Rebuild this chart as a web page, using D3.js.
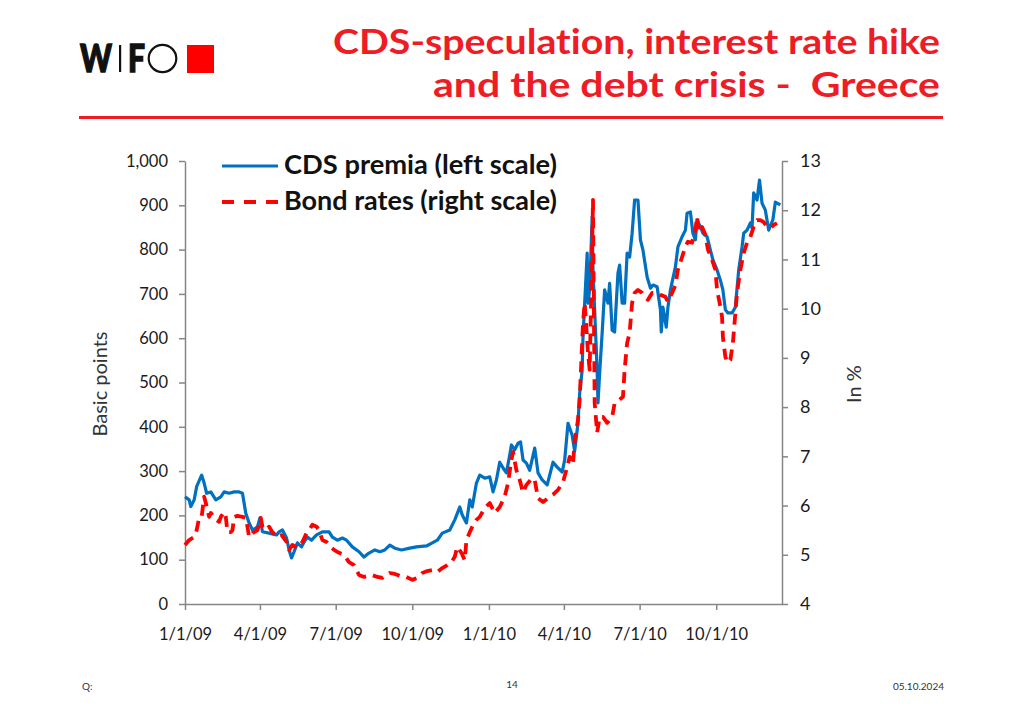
<!DOCTYPE html>
<html><head><meta charset="utf-8">
<script src="https://cdn.jsdelivr.net/npm/d3@7"></script>
<style>
body{margin:0;background:#fff}
svg{display:block}
text{font-family:Lato,"Open Sans",sans-serif;font-variant-ligatures:none}
</style>
</head><body>
<svg id="c" width="1024" height="709"></svg>
<script>
// ---------- data ----------
const titleLines = ["CDS-speculation, interest rate hike", "and the debt crisis -  Greece"];
const legendLabels = ["CDS premia (left scale)", "Bond rates (right scale)"];
const leftAxisTitle = "Basic points";
const rightAxisTitle = "In %";
const leftTicks = [0,100,200,300,400,500,600,700,800,900,1000];
const rightTicks = [4,5,6,7,8,9,10,11,12,13];
const xTickDates = ["2009-01-01","2009-04-01","2009-07-01","2009-10-01","2010-01-01","2010-04-01","2010-07-01","2010-10-01"];
const xTickLabels = ["1/1/09","4/1/09","7/1/09","10/1/09","1/1/10","4/1/10","7/1/10","10/1/10"];
const footer = ["Q:", "14", "05.10.2024"];

const cdsDates = ["2009-01-01","2009-01-06","2009-01-08","2009-01-12","2009-01-15","2009-01-20","2009-01-21","2009-01-24","2009-01-27","2009-02-01",
"2009-02-07","2009-02-13","2009-02-17","2009-02-23","2009-03-01","2009-03-07","2009-03-11","2009-03-15","2009-03-19","2009-03-23",
"2009-03-29","2009-04-01","2009-04-04","2009-04-12","2009-04-21","2009-04-24","2009-04-28","2009-05-03","2009-05-06","2009-05-09",
"2009-05-12","2009-05-16","2009-05-21","2009-05-24","2009-05-28","2009-06-02","2009-06-08","2009-06-15","2009-06-23","2009-06-27",
"2009-07-03","2009-07-09","2009-07-14","2009-07-21","2009-07-29","2009-08-04","2009-08-10","2009-08-17","2009-08-23","2009-08-29",
"2009-09-04","2009-09-10","2009-09-18","2009-09-28","2009-10-06","2009-10-18","2009-10-25","2009-10-31","2009-11-06","2009-11-15",
"2009-11-21","2009-11-27","2009-11-30","2009-12-05","2009-12-09","2009-12-12","2009-12-17","2009-12-21","2009-12-27","2010-01-02",
"2010-01-06","2010-01-10","2010-01-14","2010-01-18","2010-01-22","2010-01-26","2010-01-28","2010-02-01","2010-02-05","2010-02-08",
"2010-02-11","2010-02-15","2010-02-19","2010-02-25","2010-03-01","2010-03-06","2010-03-12","2010-03-19","2010-03-24","2010-03-30",
"2010-04-02","2010-04-06","2010-04-11","2010-04-14","2010-04-18","2010-04-20","2010-04-23","2010-04-24","2010-04-29","2010-04-30",
"2010-05-02","2010-05-05","2010-05-06","2010-05-11","2010-05-12","2010-05-14","2010-05-17","2010-05-20","2010-05-24","2010-05-26",
"2010-05-29","2010-06-01","2010-06-05","2010-06-07","2010-06-10","2010-06-13","2010-06-16","2010-06-19","2010-06-22","2010-06-25",
"2010-06-29","2010-07-02","2010-07-05","2010-07-10","2010-07-14","2010-07-17","2010-07-22","2010-07-26","2010-07-27","2010-07-29",
"2010-08-02","2010-08-04","2010-08-07","2010-08-13","2010-08-16","2010-08-21","2010-08-25","2010-08-27","2010-08-31","2010-09-03",
"2010-09-06","2010-09-08","2010-09-12","2010-09-15","2010-09-20","2010-09-24","2010-09-27","2010-10-02","2010-10-06","2010-10-09",
"2010-10-12","2010-10-15","2010-10-20","2010-10-24","2010-10-28","2010-11-01","2010-11-03","2010-11-07","2010-11-11","2010-11-13",
"2010-11-15","2010-11-19","2010-11-22","2010-11-25","2010-11-29","2010-12-03","2010-12-08","2010-12-11","2010-12-17"];
const cdsValues = [242,235,220,235,265,287,291,273,250,253,
235,242,253,250,253,253,250,205,183,167,
174,194,163,160,156,163,167,149,122,104,
118,138,129,140,151,144,156,163,163,151,
144,149,144,129,118,106,115,122,118,122,
133,126,122,126,129,131,138,144,160,167,
190,219,201,183,235,219,273,291,284,287,
253,280,320,307,296,336,359,348,363,366,
325,318,302,352,296,280,269,320,309,298,
325,408,381,345,408,476,528,603,792,679,
709,874,754,528,454,521,612,709,679,724,
618,614,747,765,679,679,792,783,837,912,
912,822,799,738,713,720,716,664,614,670,
625,670,709,761,806,829,844,882,885,837,
822,867,851,837,829,799,777,754,731,709,
664,657,657,670,754,806,837,844,860,849,
928,912,957,905,889,844,867,907,901];

const bondDates = ["2009-01-01","2009-01-06","2009-01-12","2009-01-15","2009-01-18","2009-01-21","2009-01-24","2009-01-26","2009-01-30","2009-02-01",
"2009-02-07","2009-02-11","2009-02-13","2009-02-17","2009-02-19","2009-02-21","2009-02-25","2009-02-27","2009-03-01","2009-03-05",
"2009-03-11","2009-03-15","2009-03-17","2009-03-19","2009-03-23","2009-03-29","2009-04-02","2009-04-04","2009-04-09","2009-04-12",
"2009-04-16","2009-04-22","2009-04-27","2009-05-03","2009-05-06","2009-05-10","2009-05-16","2009-05-22","2009-05-27","2009-05-30",
"2009-06-03","2009-06-08","2009-06-11","2009-06-15","2009-06-20","2009-06-26","2009-06-29","2009-07-05","2009-07-11","2009-07-17",
"2009-07-23","2009-07-29","2009-08-04","2009-08-13","2009-08-20","2009-08-26","2009-08-31","2009-09-04","2009-09-10","2009-09-16",
"2009-09-24","2009-10-01","2009-10-07","2009-10-13","2009-10-19","2009-10-25","2009-10-31","2009-11-06","2009-11-12","2009-11-17",
"2009-11-21","2009-11-24","2009-11-29","2009-12-03","2009-12-05","2009-12-09","2009-12-12","2009-12-17","2009-12-21","2009-12-27",
"2010-01-02","2010-01-08","2010-01-14","2010-01-20","2010-01-24","2010-01-28","2010-01-30","2010-02-03","2010-02-07","2010-02-11",
"2010-02-15","2010-02-22","2010-02-25","2010-03-01","2010-03-07","2010-03-13","2010-03-19","2010-03-25","2010-03-31","2010-04-05",
"2010-04-08","2010-04-12","2010-04-14","2010-04-18","2010-04-20","2010-04-24","2010-04-26","2010-04-28","2010-04-30","2010-05-02",
"2010-05-04","2010-05-06","2010-05-07","2010-05-08","2010-05-11","2010-05-14","2010-05-18","2010-05-23","2010-05-29","2010-06-01",
"2010-06-07","2010-06-11","2010-06-13","2010-06-16","2010-06-19","2010-06-22","2010-06-25","2010-06-29","2010-07-04","2010-07-08",
"2010-07-11","2010-07-16","2010-07-22","2010-07-26","2010-08-01","2010-08-04","2010-08-09","2010-08-13","2010-08-16","2010-08-21",
"2010-08-25","2010-08-28","2010-09-02","2010-09-06","2010-09-08","2010-09-10","2010-09-14","2010-09-18","2010-09-21","2010-09-26",
"2010-09-30","2010-10-02","2010-10-06","2010-10-08","2010-10-09","2010-10-12","2010-10-15","2010-10-18","2010-10-21","2010-10-24",
"2010-10-26","2010-10-30","2010-11-03","2010-11-07","2010-11-11","2010-11-15","2010-11-19","2010-11-23","2010-11-27","2010-12-01",
"2010-12-05","2010-12-09","2010-12-13"];
const bondValues = [5.20,5.30,5.36,5.50,5.75,5.77,6.18,6.05,5.77,5.85,
5.71,5.67,5.77,5.87,5.77,5.46,5.46,5.50,5.77,5.79,
5.77,5.75,5.57,5.36,5.44,5.50,5.75,5.57,5.50,5.57,
5.46,5.36,5.40,5.26,5.10,5.20,5.14,5.26,5.44,5.50,
5.61,5.57,5.50,5.30,5.26,5.14,5.10,5.04,5.00,4.85,
4.79,4.59,4.55,4.59,4.55,4.53,4.59,4.63,4.61,4.57,
4.55,4.49,4.53,4.63,4.67,4.69,4.65,4.73,4.79,4.85,
4.96,5.16,5.04,4.89,5.30,5.46,5.57,5.71,5.77,5.95,
6.05,5.85,5.97,6.18,6.46,6.93,7.09,6.72,6.52,6.26,
6.42,6.56,6.52,6.15,6.07,6.15,6.22,6.32,6.48,6.78,
6.99,6.83,7.33,7.74,8.15,9.71,10.12,9.63,9.10,8.76,
10.38,12.21,10.12,8.08,7.48,7.80,7.80,7.68,7.80,8.08,
8.15,8.21,8.76,9.30,9.51,10.12,10.32,10.38,10.32,10.22,
10.18,10.32,10.32,10.28,10.24,10.14,10.32,10.48,10.79,11.05,
11.26,11.36,11.34,11.60,11.87,11.56,11.66,11.50,11.20,10.99,
10.79,10.38,10.04,9.83,9.43,9.02,8.90,8.96,9.30,9.91,
10.32,10.79,11.13,11.34,11.46,11.66,11.80,11.80,11.76,11.66,
11.64,11.70,11.74];

// ---------- drawing ----------
const parse = d3.timeParse("%Y-%m-%d");
const cds = cdsDates.map((d,i)=>({date:parse(d), v:cdsValues[i]}));
const bond = bondDates.map((d,i)=>({date:parse(d), v:bondValues[i]}));

const svg = d3.select("#c");
const RED = "#ee1c25", BLUE = "#0070c0", AXIS = "#868686";

function fit(sel, w){
  const cur = sel.node().getComputedTextLength();
  const fs = parseFloat(sel.attr("font-size"));
  sel.attr("font-size", fs * w / cur);
}

// logo
const logo = svg.append("g");
logo.append("text").attr("x",80).attr("y",72).attr("font-size",37).attr("font-weight",900)
  .attr("fill","#111").attr("stroke","#111").attr("stroke-width",1.4)
  .attr("textLength",32).attr("lengthAdjust","spacingAndGlyphs").text("W");
logo.append("rect").attr("x",119).attr("y",45).attr("width",2.2).attr("height",27).attr("fill","#111");
logo.append("text").attr("x",128).attr("y",72).attr("font-size",37).attr("font-weight",900)
  .attr("fill","#111").attr("stroke","#111").attr("stroke-width",1.4)
  .attr("textLength",17).attr("lengthAdjust","spacingAndGlyphs").text("F");
logo.append("ellipse").attr("cx",162.5).attr("cy",58.5).attr("rx",13.8).attr("ry",13.6)
  .attr("fill","none").attr("stroke","#111").attr("stroke-width",2.2);
logo.append("rect").attr("x",187).attr("y",45).attr("width",27).attr("height",28).attr("fill","#ff0000");

// title
svg.append("text").attr("x",940).attr("y",54).attr("text-anchor","end")
  .attr("font-size",34).attr("font-weight",700).attr("fill",RED)
  .attr("textLength",607).attr("lengthAdjust","spacingAndGlyphs").text(titleLines[0]);
svg.append("text").attr("x",940).attr("y",97).attr("text-anchor","end")
  .attr("font-size",34).attr("font-weight",700).attr("fill",RED)
  .attr("textLength",507).attr("lengthAdjust","spacingAndGlyphs")
  .style("white-space","pre").text(titleLines[1]);

svg.append("line").attr("x1",79).attr("x2",943).attr("y1",117.5).attr("y2",117.5)
  .attr("stroke",RED).attr("stroke-width",3);

// scales
const x = d3.scaleTime().domain([parse("2009-01-01"), parse("2010-12-19")]).range([185, 782]);
const yL = d3.scaleLinear().domain([0,1000]).range([604,161]);
const yR = d3.scaleLinear().domain([4,13]).range([604,161]);

function styleAxis(g, fs){
  g.select(".domain").attr("stroke",AXIS).attr("stroke-width",1.5);
  g.selectAll(".tick line").attr("stroke",AXIS).attr("stroke-width",1.5);
  g.selectAll(".tick text").attr("fill","#1a1a1a").attr("font-size",fs)
   .attr("font-family","Lato, 'Open Sans', sans-serif");
}

const gL = svg.append("g").attr("transform","translate(185,0)")
  .call(d3.axisLeft(yL).tickValues(leftTicks).tickFormat(d3.format(",")).tickSize(6).tickSizeOuter(0).tickPadding(11));
styleAxis(gL, 16.5);
const gR = svg.append("g").attr("transform","translate(782,0)")
  .call(d3.axisRight(yR).tickValues(rightTicks).tickSize(6).tickSizeOuter(0).tickPadding(12));
styleAxis(gR, 18);
const gX = svg.append("g").attr("transform","translate(0,604)")
  .call(d3.axisBottom(x).tickValues(xTickDates.map(parse)).tickFormat((d,i)=>xTickLabels[i]).tickSize(6).tickSizeOuter(0).tickPadding(18));
styleAxis(gX, 16.5);

// axis titles
svg.append("text").attr("transform","translate(107,384) rotate(-90)").attr("text-anchor","middle")
  .attr("font-size",20).attr("fill","#333").text(leftAxisTitle);
svg.append("text").attr("transform","translate(861,384) rotate(-90)").attr("text-anchor","middle")
  .attr("font-size",20).attr("fill","#333").text(rightAxisTitle);

// lines
const lineL = d3.line().x(d=>x(d.date)).y(d=>yL(d.v));
const lineR = d3.line().x(d=>x(d.date)).y(d=>yR(d.v));
svg.append("path").datum(cds).attr("d",lineL).attr("fill","none").attr("stroke",BLUE)
  .attr("stroke-width",3.2).attr("stroke-linejoin","round");
svg.append("path").datum(bond).attr("d",lineR).attr("fill","none").attr("stroke","#ff0000")
  .attr("stroke-width",3.8).attr("stroke-dasharray","11,7").attr("stroke-linejoin","round");

// legend
const lg = svg.append("g");
lg.append("line").attr("x1",222).attr("x2",278).attr("y1",166).attr("y2",166)
  .attr("stroke",BLUE).attr("stroke-width",3.2);
lg.append("line").attr("x1",222).attr("x2",278).attr("y1",202).attr("y2",202)
  .attr("stroke","#ff0000").attr("stroke-width",3.8).attr("stroke-dasharray","12,10");
const l1 = lg.append("text").attr("x",284).attr("y",174).attr("font-size",22).attr("font-weight",700)
  .attr("fill","#111").text(legendLabels[0]);
fit(l1, 273);
const l2 = lg.append("text").attr("x",284).attr("y",210).attr("font-size",22).attr("font-weight",700)
  .attr("fill","#111").text(legendLabels[1]);
fit(l2, 273);

// footer
svg.append("text").attr("x",82).attr("y",690).attr("font-size",10).attr("fill","#333").text(footer[0]);
svg.append("text").attr("x",512).attr("y",688).attr("text-anchor","middle").attr("font-size",10).attr("fill","#333").text(footer[1]);
svg.append("text").attr("x",944).attr("y",690).attr("text-anchor","end").attr("font-size",10).attr("fill","#333").text(footer[2]);
</script>
</body></html>
